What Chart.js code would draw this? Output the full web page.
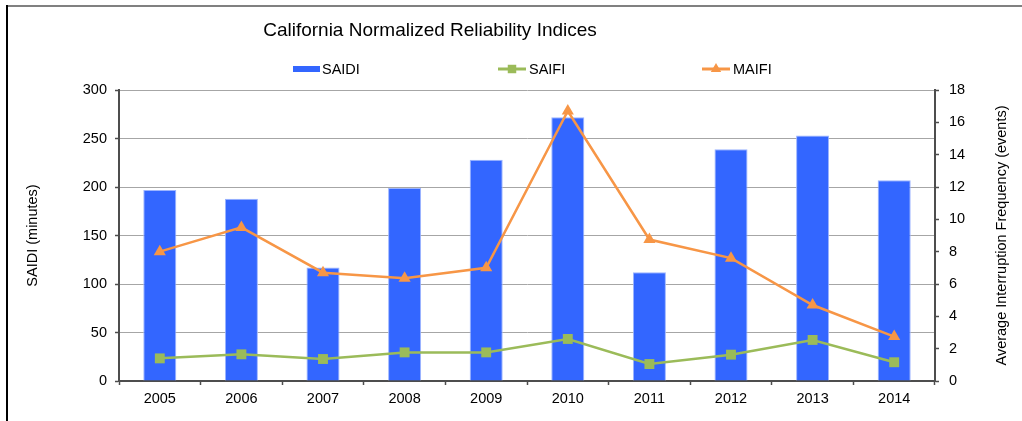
<!DOCTYPE html>
<html>
<head>
<meta charset="utf-8">
<title>California Normalized Reliability Indices</title>
<script src="https://cdn.jsdelivr.net/npm/chart.js@4.4.1/dist/chart.umd.min.js"></script>
<style>
  html, body { margin: 0; padding: 0; background: #fff; }
</style>
</head>
<body>
<canvas id="reliability" width="1022" height="421"></canvas>
<script>
const chartTitle = "California Normalized Reliability Indices";
const rightTitle = "Average Interruption Frequency (events)";
const years = ["2005", "2006", "2007", "2008", "2009", "2010", "2011", "2012", "2013", "2014"];
const saidi = [197, 188, 117, 199, 228, 272, 112, 239, 253, 207];
const saifi = [1.4, 1.65, 1.36, 1.77, 1.77, 2.6, 1.05, 1.63, 2.54, 1.16];
const maifi = [8.0, 9.5, 6.7, 6.35, 7.0, 16.7, 8.75, 7.6, 4.7, 2.75];
const saidiTicks = [0, 50, 100, 150, 200, 250, 300];
const freqTicks = [0, 2, 4, 6, 8, 10, 12, 14, 16, 18];

const FONT = "'Liberation Sans', Arial, sans-serif";
const AXIS = "#4d4d4d";
Chart.defaults.font.family = FONT;
Chart.defaults.color = "#000";

// frame, title, legend row and the right axis title are drawn by hand
const header = {
  id: "header",
  beforeDraw(chart) {
    const ctx = chart.ctx;
    ctx.save();
    ctx.fillStyle = "#808080";
    ctx.fillRect(7, 5, 1015, 2);
    ctx.fillStyle = "#000";
    ctx.fillRect(6, 5, 2, 416);
    ctx.restore();
  },
  afterDraw(chart) {
    const ctx = chart.ctx;
    const area = chart.chartArea;
    ctx.save();
    ctx.fillStyle = "#000";
    ctx.textBaseline = "middle";
    ctx.textAlign = "center";
    ctx.font = "19px " + FONT;
    ctx.fillText(chartTitle, 430, 31);

    // right axis title reads bottom to top like the left one
    ctx.font = "14.5px " + FONT;
    ctx.save();
    ctx.translate(1002, (area.top + area.bottom) / 2);
    ctx.rotate(-Math.PI / 2);
    ctx.fillText(rightTitle, 0, 0);
    ctx.restore();

    ctx.textAlign = "left";
    const y = 69;
    chart.data.datasets.forEach((ds, i) => {
      const x = 293 + i * 204;
      if (ds.type === "bar") {
        ctx.fillStyle = ds.backgroundColor;
        ctx.fillRect(x, y - 3, 27, 6);
      } else {
        ctx.strokeStyle = ds.borderColor;
        ctx.lineWidth = 3;
        ctx.beginPath();
        ctx.moveTo(x + 1, y);
        ctx.lineTo(x + 29, y);
        ctx.stroke();
        ctx.fillStyle = ds.borderColor;
        Chart.helpers.drawPoint(ctx, {pointStyle: ds.pointStyle, radius: 6, rotation: 0, borderWidth: 0}, x + 15, y);
      }
      ctx.fillStyle = "#000";
      ctx.fillText(ds.label, x + (ds.type === "bar" ? 29 : 32), y + 1);
    });
    ctx.restore();
  }
};

new Chart(document.getElementById("reliability"), {
  type: "bar",
  data: {
    labels: years,
    datasets: [
      {
        type: "bar",
        label: "SAIDI",
        data: saidi,
        yAxisID: "y",
        backgroundColor: "#3366FF",
        borderColor: "#9db5ff",
        borderWidth: 1,
        categoryPercentage: 1,
        barPercentage: 0.405,
        order: 3,
      },
      {
        type: "line",
        label: "SAIFI",
        data: saifi,
        yAxisID: "y1",
        borderColor: "#9BBB59",
        backgroundColor: "#9BBB59",
        borderWidth: 2.5,
        pointStyle: "rect",
        pointRadius: 7,
        pointBorderWidth: 0,
        tension: 0,
        order: 2,
      },
      {
        type: "line",
        label: "MAIFI",
        data: maifi,
        yAxisID: "y1",
        borderColor: "#F79646",
        backgroundColor: "#F79646",
        borderWidth: 2.5,
        pointStyle: "triangle",
        pointRadius: 7,
        pointBorderWidth: 0,
        tension: 0,
        order: 1,
      },
    ],
  },
  options: {
    responsive: false,
    animation: false,
    devicePixelRatio: 1,
    layout: { padding: { top: 90, left: 0, right: 0, bottom: 0 } },
    plugins: {
      legend: { display: false },
      title: { display: false },
      tooltip: { enabled: false },
    },
    scales: {
      x: {
        afterFit: (s) => { s.height = 40; },
        grid: { offset: true, drawOnChartArea: false, tickLength: 4, tickColor: AXIS, tickWidth: 1.5 },
        border: { color: AXIS, width: 2 },
        ticks: { font: { size: 14.5 }, padding: 5, maxRotation: 0 },
      },
      y: {
        position: "left",
        min: 0,
        max: 300,
        afterFit: (s) => { s.width = 119; },
        afterBuildTicks: (s) => { s.ticks = saidiTicks.map((v) => ({ value: v })); },
        grid: { color: "#a6a6a6", lineWidth: 1, tickLength: 4, tickColor: AXIS, tickWidth: 1.5 },
        border: { color: AXIS, width: 2 },
        ticks: { font: { size: 14.5 }, padding: 8 },
        title: { display: true, text: "SAIDI (minutes)", font: { size: 14.5 }, padding: { top: 24, bottom: 0 } },
      },
      y1: {
        position: "right",
        min: 0,
        max: 18,
        afterFit: (s) => { s.width = 87; },
        afterBuildTicks: (s) => { s.ticks = freqTicks.map((v) => ({ value: v })); },
        grid: { drawOnChartArea: false, tickLength: 4, tickColor: AXIS, tickWidth: 1.5 },
        border: { color: AXIS, width: 2 },
        ticks: { font: { size: 14.5 }, padding: 10 },
      },
    },
  },
  plugins: [header],
});
</script>
</body>
</html>
